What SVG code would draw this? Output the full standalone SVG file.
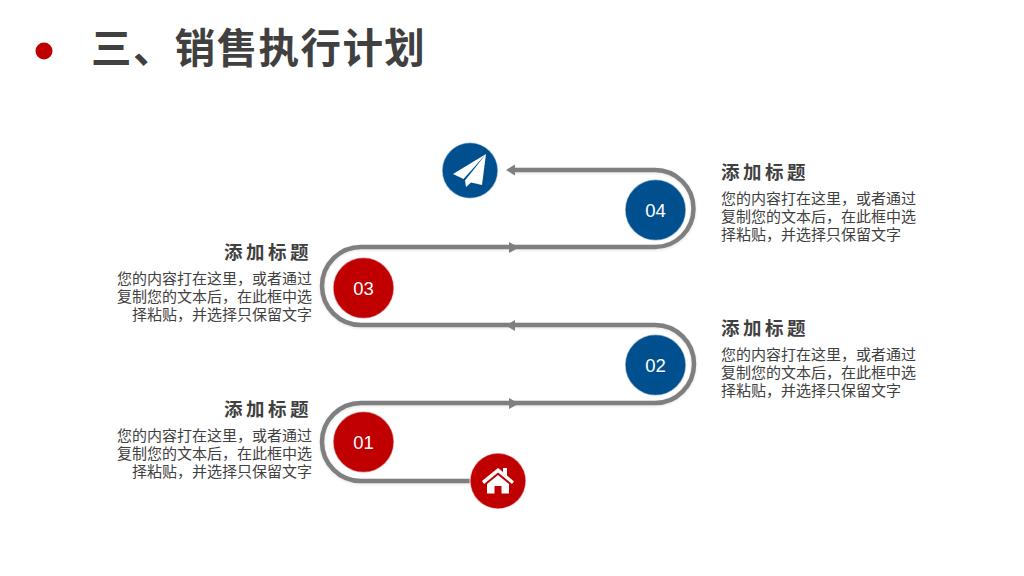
<svg xmlns="http://www.w3.org/2000/svg" width="1024" height="576" viewBox="0 0 1024 576">
<defs>
<filter id="soft" x="-10%" y="-10%" width="120%" height="120%"><feGaussianBlur stdDeviation="1.2"/></filter>
</defs>
<style>
.cjk{font-family:"Liberation Sans","Noto Sans CJK SC",sans-serif}
.title{font-size:40.5px;font-weight:700;fill:#404040;letter-spacing:1.4px}
.h{font-size:18.5px;font-weight:700;fill:#404040;letter-spacing:3.5px}
.b{font-size:15px;fill:#404040}
.num{font-family:"Liberation Sans",Arial,sans-serif;font-size:18.5px;fill:#fff;text-anchor:middle}
.red{fill:#c00000;stroke:#fff;stroke-opacity:.55;stroke-width:1.5}
.blue{fill:#00508f;stroke:#fff;stroke-opacity:.55;stroke-width:1.5}
.end{text-anchor:end}
.line{fill:none;stroke:#7f7f7f;stroke-width:4.5}
.halo{fill:none;stroke:#bbb;stroke-width:5.5;opacity:.3}
.ah{fill:#7f7f7f}
</style>
<g id="connectors">
<path class="halo" filter="url(#soft)" transform="translate(0 1)" d="M497 481H361A39 39 0 0 1 361 403H655A39 39 0 0 0 655 325H361A39 39 0 0 1 361 247H655A38.500 38.500 0 0 0 655 170H512"/>
<path class="line" d="M497 481H361A39 39 0 0 1 361 403H655A39 39 0 0 0 655 325H361A39 39 0 0 1 361 247H655A38.500 38.500 0 0 0 655 170H512"/>
<polygon class="ah" points="506,170 515,164.500 515,175.500"/>
<polygon class="ah" points="519,247.500 509,242 509,253"/>
<polygon class="ah" points="506,325.500 515,320 515,331"/>
<polygon class="ah" points="519,403.500 509,398 509,409"/>
</g>
<g id="title">
<circle cx="44" cy="51" r="8.500" fill="#c00000"/>
<text class="cjk title" x="91" y="63">三、销售执行计划</text>
</g>
<g id="node-home">
<circle class="red" cx="498" cy="481" r="28"/>
<path fill="#fff" d="M482 481L498 468L503 472V468H507V475.500L514 481.500L512 484L498 472.500L484 484Z M487 484L498 475L509 484V493.500H501.500V486H494.500V493.500H487Z"/>
</g>
<g id="node-plane">
<circle class="blue" cx="470" cy="170.500" r="28"/>
<path fill="#fff" d="M486 154L453 174L463.500 179Z M486 154L465 180.500L466 187L471 182.500L482 185Z"/>
</g>
<g id="node-01"><circle class="red" cx="363.500" cy="442" r="30.500"/><text class="num" x="363.500" y="449">01</text></g>
<g id="node-02"><circle class="blue" cx="655.500" cy="365" r="30.500"/><text class="num" x="655.500" y="372">02</text></g>
<g id="node-03"><circle class="red" cx="363.500" cy="288" r="30.500"/><text class="num" x="363.500" y="295">03</text></g>
<g id="node-04"><circle class="blue" cx="655.500" cy="210" r="30.500"/><text class="num" x="655.500" y="217">04</text></g>
<g id="text-04" class="cjk">
<text class="h" x="721" y="179">添加标题</text>
<text class="b" x="721" y="204">您的内容打在这里，或者通过</text>
<text class="b" x="721" y="222">复制您的文本后，在此框中选</text>
<text class="b" x="721" y="240">择粘贴，并选择只保留文字</text>
</g>
<g id="text-02" class="cjk">
<text class="h" x="721" y="335">添加标题</text>
<text class="b" x="721" y="360">您的内容打在这里，或者通过</text>
<text class="b" x="721" y="378">复制您的文本后，在此框中选</text>
<text class="b" x="721" y="396">择粘贴，并选择只保留文字</text>
</g>
<g id="text-03" class="cjk">
<text class="h end" x="312" y="259">添加标题</text>
<text class="b end" x="312" y="284">您的内容打在这里，或者通过</text>
<text class="b end" x="312" y="302">复制您的文本后，在此框中选</text>
<text class="b end" x="312" y="320">择粘贴，并选择只保留文字</text>
</g>
<g id="text-01" class="cjk">
<text class="h end" x="312" y="416">添加标题</text>
<text class="b end" x="312" y="441">您的内容打在这里，或者通过</text>
<text class="b end" x="312" y="459">复制您的文本后，在此框中选</text>
<text class="b end" x="312" y="477">择粘贴，并选择只保留文字</text>
</g>
</svg>
